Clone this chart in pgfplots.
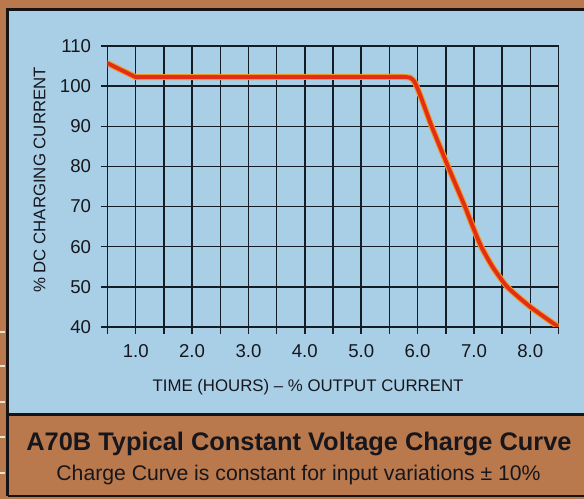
\documentclass[border=0pt]{standalone}
\usepackage{pgfplots}
\pgfplotsset{compat=1.18}
\usepackage{pgfplotstable}
\usepackage{fontspec}
\setmainfont{Liberation Sans}
\definecolor{bgbrown}{RGB}{185,121,76}
\definecolor{panelblue}{RGB}{169,207,231}
\definecolor{edge}{RGB}{20,20,22}
\definecolor{gridc}{RGB}{20,28,38}
\definecolor{curvered}{RGB}{226,46,22}
\definecolor{curveorange}{RGB}{240,150,35}
\definecolor{txt}{RGB}{22,22,28}
\definecolor{rulerc}{RGB}{235,225,205}

\pgfplotstableread{
x y
0.5 105.7
1.0 102.25
5.6 102.3
}\partA

\pgfplotstableread{
x y
5.5 102.3
5.75 102.3
5.87 102.1
5.94 101.2
6.0 99.4
6.08 96.5
6.25 90
6.54 80
6.84 70
6.98 65
7.13 60
7.33 55
7.59 50
8.0 45
8.47 40.3
}\partB

\begin{document}
\begin{tikzpicture}[x=1bp,y=1bp]
\useasboundingbox (0,0) rectangle (584,499);
\fill[bgbrown] (0,0) rectangle (584,499);
\fill[panelblue] (8,85) rectangle (584,489.5);
\draw[edge, line width=2.5bp] (7.5,2.5) -- (7.5,489.5) -- (584,489.5);
\draw[edge, line width=3bp] (7.5,84) -- (584,84);
\draw[edge, line width=2bp] (7.5,2.5) -- (584,2.5);
\foreach \yy in {332,366,402,437,473} {
  \draw[rulerc, line width=1.5bp] (0,499-\yy) -- (5,499-\yy);
}
\begin{axis}[
  at={(107.5bp,172bp)}, anchor=south west,
  scale only axis, width=451bp, height=281bp,
  xmin=0.5, xmax=8.5, ymin=40, ymax=110,
  xtick={1,...,8}, minor xtick={0.5,1.5,...,8.5},
  ytick={40,50,...,110},
  grid=both,
  major grid style={line width=1.5bp, gridc},
  minor grid style={line width=1.5bp, gridc},
  axis line style={line width=1.5bp, gridc},
  tick style={line width=1.5bp, gridc},
  tick align=outside, tick pos=left,
  major tick length=7bp, minor tick length=7bp,
  /pgf/number format/assume math mode=true,
  ticklabel style={font=\fontsize{18.6bp}{20bp}\selectfont, text=txt},
  xticklabel style={yshift=-7bp, /pgf/number format/fixed, /pgf/number format/fixed zerofill, /pgf/number format/precision=1},
  yticklabel style={xshift=-6bp},
  xlabel={TIME (HOURS) – \% OUTPUT CURRENT},
  ylabel={\% DC CHARGING CURRENT},
  label style={font=\fontsize{16.8bp}{19bp}\selectfont, text=txt},
  xlabel style={at={(axis description cs:0.4446,-0.2302)}, anchor=base},
  ylabel style={at={(axis description cs:-0.1508,0.5231)}, anchor=center},
]
\addplot[curveorange, line width=6bp, line join=round, line cap=round] table {\partA};
\addplot[curveorange, line width=6bp, smooth, tension=0.35, line cap=round] table {\partB};
\addplot[curvered, line width=3.8bp, line join=round, line cap=round] table {\partA};
\addplot[curvered, line width=3.8bp, smooth, tension=0.35, line cap=round] table {\partB};
\end{axis}
\node[anchor=base, text=txt, font=\fontsize{25.4bp}{28bp}\bfseries\selectfont] at (299,48) {A70B Typical Constant Voltage Charge Curve};
\node[anchor=base, text=txt, font=\fontsize{21.2bp}{24bp}\selectfont] at (298.5,18.5) {Charge Curve is constant for input variations ± 10\%};
\end{tikzpicture}
\end{document}
